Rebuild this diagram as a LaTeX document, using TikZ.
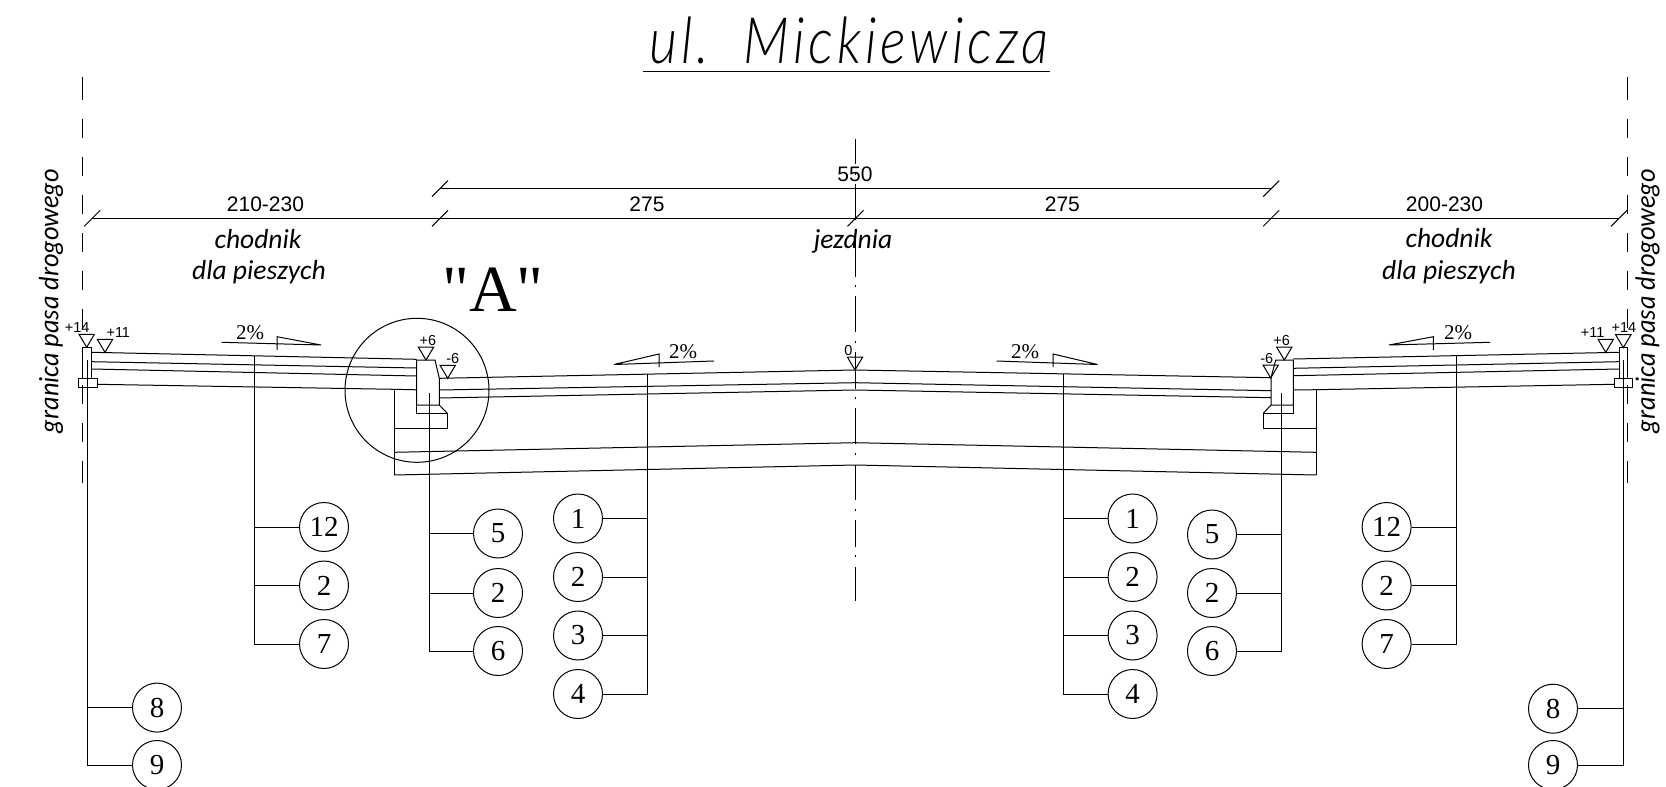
\documentclass[tikz,border=0pt]{standalone}
\usepackage{fontspec}
\setmainfont{Liberation Sans}
\newfontfamily\serifnum{Liberation Serif}
\newfontfamily\thinf{Lato Light}[LetterSpace=6,FakeStretch=0.85]
\newfontfamily\lblf{Carlito}
\newfontfamily\lblg{Carlito}[FakeStretch=0.94]
\tikzset{
  x=1pt,y=-1pt,
  ln/.style={line width=1pt,black,line join=miter},
  num/.style={circle,draw,line width=1pt,minimum size=49pt,inner sep=0pt,font=\serifnum\fontsize{29}{29}\selectfont},
  dim/.style={inner sep=0pt,font=\fontsize{21}{21}\selectfont},
  lvl/.style={inner sep=0pt,font=\fontsize{14.5}{14.5}\selectfont},
  pct/.style={inner sep=0pt,font=\serifnum\fontsize{21}{21}\selectfont},
  lbl/.style={inner sep=0pt,font=\lblf\itshape\fontsize{27.5}{27.5}\selectfont},
  lblv/.style={inner sep=0pt,rotate=90,font=\lblg\itshape\fontsize{28}{28}\selectfont},
}
\newcommand{\lvltri}[1]{\draw[ln] (#1) -- ++(-7.7,-13) -- ++(15.4,0) -- cycle;}
\begin{document}
\begin{tikzpicture}[ln]
\useasboundingbox (0,0) rectangle (1666,787);
% title
\node[inner sep=0pt,font=\thinf\itshape\fontsize{64}{64}\selectfont] (title) at (849,40) {ul.\ \ Mickiewicza};
\coordinate (ulL) at (643,71.7); \coordinate (ulR) at (1049.5,71.7);
\draw (ulL) -- (ulR);
% boundary axes
\foreach \x in {82.7,1627.3}{
  \draw (\x,76.7) -- (\x,100);
  \foreach \y in {119,157,195,233,271,309,347,385,423}{\draw (\x,\y) -- (\x,\y+19);}
  \draw (\x,461) -- (\x,483);
}
% centre axis
\foreach \a/\b in {139/164,184/220,240/276.7,296/332.3,352/389.3,408/444,465/500,520/547,567/601}{\draw (855,\a) -- (855,\b);}
\foreach \y in {174,230,286,342,398,454,510,556}{\draw (855,\y-0.8) -- (855,\y+0.8);}
% dimension lines
\coordinate (dL) at (91.7,218.3); \coordinate (dR) at (1619,218.3);
\draw (dL) -- (dR);
\coordinate (uL) at (440,188.7); \coordinate (uR) at (1271.7,188.7);
\draw (uL) -- (uR);
\foreach \x/\y in {92.2/218.3,440/218.3,855.5/218.3,1271.2/218.3,1619/218.3,440/188.7,1271.2/188.7}{
  \draw (\x-8,\y+8) -- (\x+8,\y-8);
}
\node[dim] (d550) at (855,174) {550};
\node[dim] (d1) at (265.5,204) {210-230};
\node[dim] (d2) at (647,204) {275};
\node[dim] (d3) at (1062.4,204) {275};
\node[dim] (d4) at (1444.5,204) {200-230};
\node[lbl] (t1) at (258,239) {chodnik};
\node[lbl] (t2) at (259,272) {dla pieszych};
\node[lbl] (t3) at (1449,238) {chodnik};
\node[lbl] (t4) at (1449,272) {dla pieszych};
\node[lbl] (t5) at (853,241) {jezdnia};
\node[lblv] (g1) at (51,301) {granica pasa drogowego};
\node[lblv] (g2) at (1647.5,301) {granica pasa drogowego};
\node[inner sep=0pt,font=\serifnum\fontsize{66}{66}\selectfont] (bigA) at (493,290) {"A"};
% detail circle
\node[circle,draw,line width=1pt,minimum size=144pt,inner sep=0pt] (detail) at (417,390.3) {};
% left sidewalk
\draw (82.7,347) rectangle (91.7,378);
\draw (78,378) rectangle (97,387);
\draw (91.7,352.3) -- (416.7,359.3);
\draw (91.7,361.7) -- (416.7,368);
\draw (91.7,369) -- (416.7,376);
\draw (97,384.3) -- (394,389.3) -- (416.7,389.8);
% right sidewalk
\draw (1619,347.7) rectangle (1627.7,378.3);
\draw (1614.3,378.3) rectangle (1632.3,387.3);
\draw (1293.3,359) -- (1619,352.3);
\draw (1293.3,368.3) -- (1619,361.7);
\draw (1293.3,375.7) -- (1619,369);
\draw (1293.3,390) -- (1316,389.7) -- (1614.3,384.3);
% left curb
\draw (416.7,360) -- (435,360) -- (439.3,378.3) -- (439.3,405) -- (416.7,405) -- cycle;
\draw (416.7,405) -- (416.7,413.3) -- (447.3,413.3) -- (447.3,428.3) -- (394,428.3);
\draw (439.3,405) -- (447.3,413.3);
\draw (394,389.3) -- (394,475);
% right curb
\draw (1275.7,360) -- (1293.3,360) -- (1293.3,405) -- (1271,405) -- (1271,377.7) -- cycle;
\draw (1293.3,405) -- (1293.3,413.3) -- (1263.3,413.3) -- (1263.3,428.3) -- (1316,428.3);
\draw (1271,405) -- (1263.3,413.3);
\draw (1316,389.7) -- (1316,475);
% roadway
\draw (439.3,378.3) -- (855,370) -- (1271,377.7);
\draw (439.3,390) -- (855,382.7) -- (1271,390.7);
\draw (439.3,398) -- (855,390) -- (1271,397.7);
\draw (394,452.3) -- (855,442.7) -- (1316,452.3);
\draw (394,475) -- (855,465) -- (1316,475);
% slopes
\node[pct] (p1) at (250,333) {2\%};
\draw (221.7,342.3) -- (321,345) -- (277,336.7) -- (277,350);
\node[pct] (p2) at (1458,333) {2\%};
\draw (1490,342.3) -- (1389,345) -- (1433.3,336.7) -- (1433.3,350);
\node[pct] (p3) at (683,351.5) {2\%};
\draw (714,361) -- (614,364.5) -- (659,354) -- (659,367);
\node[pct] (p4) at (1025,351.5) {2\%};
\draw (996.6,361) -- (1097.6,364.5) -- (1053,354) -- (1053,367);
% levels
\lvltri{86.7,347.3} \lvltri{105,352.3} \lvltri{426,360} \lvltri{447.7,378.3} \lvltri{855,370}
\lvltri{1284.3,360} \lvltri{1270.7,378} \lvltri{1605.7,352.3} \lvltri{1623.3,347.7}
\node[lvl] (l1) at (77.2,327.5) {+14};
\node[lvl] (l2) at (118.3,333) {+11};
\node[lvl] (l3) at (428,340.5) {+6};
\node[lvl] (l4) at (452.7,359) {-6};
\node[lvl] (l5) at (848.3,350.5) {0};
\node[lvl] (l6) at (1281.7,340.5) {+6};
\node[lvl] (l7) at (1266.7,359) {-6};
\node[lvl] (l8) at (1592.7,333) {+11};
\node[lvl] (l9) at (1624,327.5) {+14};
% numbered circles
\node[num] (a12) at (324,527) {12};
\node[num] (a2) at (324,585.5) {2};
\node[num] (a7) at (324,644) {7};
\node[num] (b5) at (498,533.5) {5};
\node[num] (b2) at (498,593) {2};
\node[num] (b6) at (498,651) {6};
\node[num] (c1) at (578,518.5) {1};
\node[num] (c2) at (578,577) {2};
\node[num] (c3) at (578,635.5) {3};
\node[num] (c4) at (578,694) {4};
\node[num] (d1c) at (1132.6,518.5) {1};
\node[num] (d2c) at (1132.6,577) {2};
\node[num] (d3c) at (1132.6,635.5) {3};
\node[num] (d4c) at (1132.6,694) {4};
\node[num] (e5) at (1212,534.5) {5};
\node[num] (e2) at (1212,593) {2};
\node[num] (e6) at (1212,651) {6};
\node[num] (f12) at (1386.6,527) {12};
\node[num] (f2) at (1386.6,585.5) {2};
\node[num] (f7) at (1386.6,644) {7};
\node[num] (g8) at (157,707.6) {8};
\node[num] (g9) at (157,765) {9};
\node[num] (h8) at (1553,708.7) {8};
\node[num] (h9) at (1553,765) {9};
% leaders
\coordinate (ta) at (254.3,355.7);
\coordinate (tb) at (429,393.3);
\coordinate (tc) at (647,374);
\coordinate (td) at (1063.6,374);
\coordinate (te) at (1281.7,393.3);
\coordinate (tf) at (1456,355);
\coordinate (tg) at (87,360);
\coordinate (th) at (1623.3,360);
\draw (ta) -- (ta |- a7.east) -- (a7.west);
\draw (a12.west) -- (a12.west -| ta);
\draw (a2.west) -- (a2.west -| ta);
\draw (tb) -- (tb |- b6.west) -- (b6.west);
\draw (b5.west) -- (b5.west -| tb);
\draw (b2.west) -- (b2.west -| tb);
\draw (tc) -- (tc |- c4.east) -- (c4.east);
\draw (c1.east) -- (c1.east -| tc);
\draw (c2.east) -- (c2.east -| tc);
\draw (c3.east) -- (c3.east -| tc);
\draw (td) -- (td |- d4c.west) -- (d4c.west);
\draw (d1c.west) -- (d1c.west -| td);
\draw (d2c.west) -- (d2c.west -| td);
\draw (d3c.west) -- (d3c.west -| td);
\draw (te) -- (te |- e6.east) -- (e6.east);
\draw (e5.east) -- (e5.east -| te);
\draw (e2.east) -- (e2.east -| te);
\draw (tf) -- (tf |- f7.east) -- (f7.east);
\draw (f12.east) -- (f12.east -| tf);
\draw (f2.east) -- (f2.east -| tf);
\draw (tg) -- (tg |- g9.west) -- (g9.west);
\draw (g8.west) -- (g8.west -| tg);
\draw (th) -- (th |- h9.east) -- (h9.east);
\draw (h8.east) -- (h8.east -| th);
\end{tikzpicture}
\end{document}
